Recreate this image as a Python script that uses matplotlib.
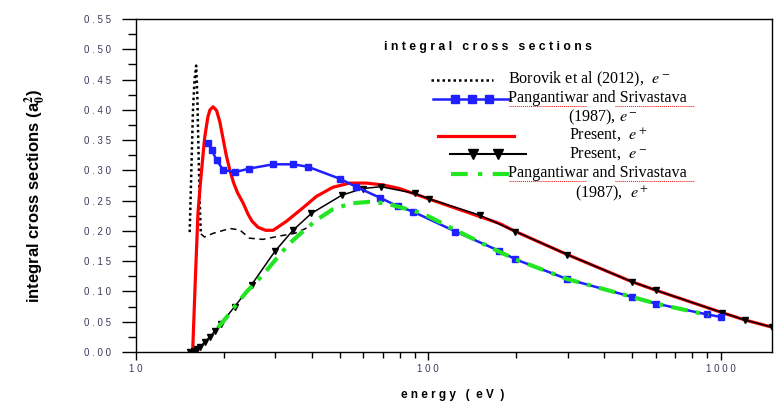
import numpy as np
import matplotlib
matplotlib.use("Agg")
import matplotlib.pyplot as plt
from matplotlib.lines import Line2D
from matplotlib.ticker import MultipleLocator, FuncFormatter, LogLocator, NullFormatter

plt.rcParams['mathtext.fontset'] = 'stix'

# Borovik et al (2012), e-  (black dotted)
bor_E = [15.3, 15.5, 15.7, 15.9, 16.1, 16.25, 16.4, 16.55, 16.7,
         17.2, 18.4, 21.0, 22.7, 24.5, 27.2, 31.0, 35.0, 39.4]
bor_s = [0.198, 0.30, 0.40, 0.45, 0.473, 0.42, 0.33, 0.25, 0.195,
         0.190, 0.196, 0.204, 0.2015, 0.188, 0.186, 0.1915, 0.196, 0.207]

# Pangantiwar and Srivastava (1987), e-  (blue squares)
pe_E = [17.7, 18.2, 18.9, 19.9, 21.8, 24.5, 29.5, 34.5, 38.8, 50.0, 56.6,
        68.3, 78.6, 88.6, 124, 175, 199, 299, 498, 601, 900, 1000]
pe_s = [0.345, 0.334, 0.317, 0.301, 0.297, 0.303, 0.310, 0.310, 0.306, 0.286, 0.273,
        0.255, 0.241, 0.232, 0.199, 0.167, 0.153, 0.1205, 0.091, 0.080, 0.062, 0.058]

# Present, e+  (red)
red_E = [15.66, 15.99, 16.33, 16.68, 17.2, 17.65, 17.95, 18.4, 18.9, 19.4, 20.4, 21.0, 21.6,
         22.3, 23.3, 24.2, 25.0, 26.2, 27.8, 29.5, 32.8, 37.3, 41.5, 47.2, 53.9, 61.4, 70,
         79.8, 103, 134, 175, 199, 299, 498, 601, 1013, 1210, 1500]
red_s = [0.0, 0.119, 0.23, 0.284, 0.353, 0.388, 0.400, 0.405, 0.399, 0.380, 0.325, 0.300, 0.280,
         0.263, 0.246, 0.228, 0.216, 0.206, 0.201, 0.201, 0.216, 0.238, 0.257, 0.272, 0.279, 0.279, 0.276,
         0.270, 0.251, 0.232, 0.2125, 0.199, 0.161, 0.116, 0.102, 0.065, 0.053, 0.041]

# Present, e-  (black triangles)
blk_E = [15.3, 15.8, 16.2, 16.6, 17.2, 17.9, 18.7, 19.6, 21.8, 24.9, 29.9, 34.5,
         39.9, 50.7, 59.8, 69, 89.9, 100.7, 150, 199, 299, 498, 601, 1013, 1210, 1500]
blk_s = [0.0, 0.002, 0.005, 0.009, 0.016, 0.025, 0.035, 0.047, 0.075, 0.111, 0.166, 0.201,
         0.229, 0.259, 0.270, 0.273, 0.262, 0.253, 0.226, 0.199, 0.161, 0.116, 0.102, 0.065, 0.053, 0.041]

# Pangantiwar and Srivastava (1987), e+  (green dash-dot)
pp_E = [19.1, 20.5, 22.2, 24.0, 26.2, 28.4, 31.0, 33.6, 37.3, 41.5, 47.2, 54.6,
        63, 71.8, 95.6, 124, 166, 199, 299, 498, 601, 910]
pp_s = [0.040, 0.058, 0.080, 0.100, 0.119, 0.138, 0.160, 0.1795, 0.199, 0.218, 0.2357, 0.2455,
        0.248, 0.2455, 0.229, 0.2015, 0.171, 0.153, 0.1205, 0.091, 0.080, 0.061]

W, H = 774, 403
fig = plt.figure(figsize=(W / 100, H / 100), dpi=100)
ax = fig.add_axes([135.7 / W, 1 - 352 / H, (772 - 135.7) / W, (352 - 19) / H])

green = '#22e622'
blue = '#1f1fff'
ax.plot(bor_E[:9], bor_s[:9], color='black', lw=1.8, ls=(0, (1, 1.2)))
ax.plot(bor_E[8:], bor_s[8:], color='black', lw=1.1, ls=(0, (4, 3)))
ax.plot(red_E, red_s, color='red', lw=2.3)
ax.plot(blk_E, blk_s, color='black', lw=1.1, marker='v', ms=5)
ax.plot(pe_E, pe_s, color=blue, lw=1.8, marker='s', ms=4)
ax.plot(pp_E, pp_s, color=green, lw=3, ls=(0, (4, 2, 1, 2)))

ax.set_xscale('log')
ax.set_xlim(10, 1500)
ax.set_ylim(0, 0.55)

lab_col = '#3c3c5c'
ax.yaxis.set_major_locator(MultipleLocator(0.05))
ax.yaxis.set_minor_locator(MultipleLocator(0.025))
ax.yaxis.set_major_formatter(FuncFormatter(lambda v, p: ' '.join(f'{v:.2f}')))
ax.xaxis.set_major_locator(LogLocator(base=10))
ax.xaxis.set_minor_locator(LogLocator(base=10, subs=np.arange(2, 10)))
ax.xaxis.set_minor_formatter(NullFormatter())
ax.xaxis.set_major_formatter(FuncFormatter(lambda v, p: ' '.join(str(int(round(v))))))
ax.tick_params(axis='y', which='major', length=10, width=1, pad=8, direction='out',
               labelsize=7, labelcolor=lab_col)
ax.tick_params(axis='y', which='minor', length=6, width=1, direction='out')
ax.tick_params(axis='x', which='major', length=6, width=1, pad=3, direction='out',
               labelsize=7, labelcolor=lab_col)
ax.tick_params(axis='x', which='minor', length=4, width=1, direction='out')
for lab in ax.get_xticklabels() + ax.get_yticklabels():
    lab.set_fontfamily('Liberation Sans')
for s in ax.spines.values():
    s.set_linewidth(1.0)

def fx(x):
    return x / W

def fy(y):
    return 1 - y / H

def spaced(s):
    return '   '.join(' '.join(w) for w in s.split())

fig.text(fx(488), fy(46.7), spaced('integral cross sections'), ha='center', va='center',
         fontsize=8.8, fontweight='bold', family='Liberation Sans')
fig.text(fx(453), fy(395), spaced('energy (eV)').replace('(', '( ').replace(')', ' )'),
         ha='center', va='center', fontsize=8.5, fontweight='bold', family='Liberation Sans')
fig.text(fx(35), fy(196), r'integral cross sections (a$_\mathbf{0}^\mathbf{2}$)', rotation=90,
         ha='center', va='center', fontsize=12, fontweight='bold',
         family=['Liberation Sans Narrow', 'Liberation Sans'])

# legend drawn by hand
def leg_line(x0, x1, y, **kw):
    fig.add_artist(Line2D([fx(x0), fx(x1)], [fy(y), fy(y)], **kw))

def leg_marks(xs, y, **kw):
    fig.add_artist(Line2D([fx(m) for m in xs], [fy(y)] * len(xs), ls='none', **kw))

leg_line(431, 493, 80, color='black', lw=1.8, ls=(0, (1, 1.2)))
leg_line(433, 510, 99, color=blue, lw=1.8)
leg_marks([455, 472, 489], 99, color=blue, marker='s', ms=6)
leg_line(438, 514, 135.7, color='red', lw=2.3)
leg_line(450, 526, 154.3, color='black', lw=1.5)
leg_marks([473, 498], 154.3, color='black', marker='v', ms=7)
leg_line(451, 512, 174, color=green, lw=3, ls=(0, (4, 2.5, 1, 2.5)))

tf = dict(fontsize=11.6, family='Liberation Serif', va='center')
fig.text(fx(508), fy(79), r'Borovik et al (2012),  $e^-$', **tf)
fig.text(fx(508), fy(98), 'Pangantiwar and Srivastava', **tf)
fig.text(fx(568), fy(117), r'(1987), $e^-$', **tf)
fig.text(fx(569), fy(135), r'Present,  $e^+$', **tf)
fig.text(fx(569), fy(154), r'Present,  $e^-$', **tf)
fig.text(fx(508), fy(173), 'Pangantiwar and Srivastava', **tf)
fig.text(fx(575), fy(193), r'(1987),  $e^+$', **tf)

# spell-check squiggles under the long names
for y in (106, 181):
    leg_line(509, 586, y, color='red', lw=0.7, ls=(0, (1, 1)))
    leg_line(615, 694, y, color='red', lw=0.7, ls=(0, (1, 1)))

fig.savefig('out.png', dpi=100)
